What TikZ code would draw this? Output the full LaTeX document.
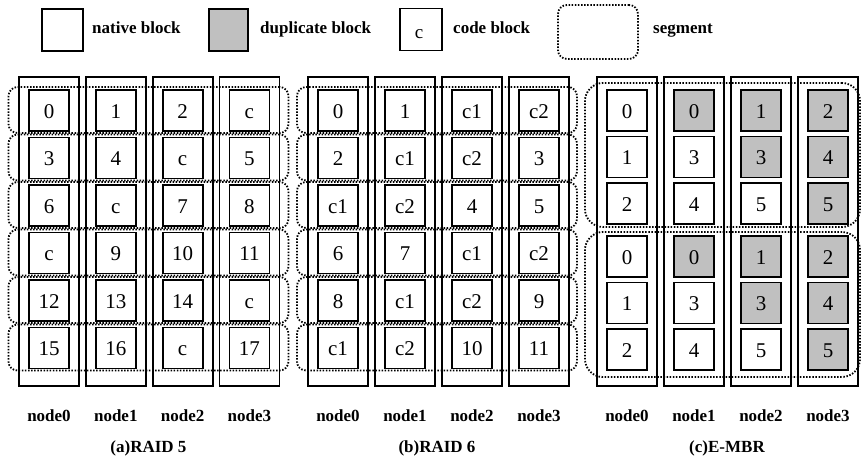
\documentclass[tikz,border=0pt]{standalone}
\usepackage{fontspec}
\setmainfont{Liberation Serif}
\definecolor{dupgray}{HTML}{C0C0C0}
\colorlet{nat}{white}
\colorlet{dup}{dupgray}
\begin{document}
\begin{tikzpicture}[x=1pt,y=-1pt,
  blk/.style={draw,line width=1.8pt,minimum width=40pt,minimum height=41pt,inner sep=0pt,fill=white,text height=15pt,text depth=0pt,font=\fontsize{21}{21}\selectfont},
  colbox/.style={draw,line width=1.8pt,minimum width=60pt,minimum height=309pt,inner sep=0pt},
  seg/.style={draw,line width=1.8pt,dash pattern=on 1.5pt off 1.6pt,rounded corners=9pt,inner sep=0pt},
  lbl/.style={font=\fontsize{17}{17}\selectfont\bfseries,inner sep=0pt}]
\useasboundingbox (0,0) rectangle (861,464);

% legend
\node[blk,minimum width=41pt,minimum height=42pt] (legnat) at (62.5,30) {};
\node[lbl,anchor=base west] (legnattxt) at (92,33) {native block};
\node[blk,fill=dupgray,minimum width=39pt,minimum height=42pt] (legdup) at (228.5,30) {};
\node[lbl,anchor=base west] (legduptxt) at (260,33) {duplicate block};
\node[blk,minimum width=42pt,minimum height=42pt] (legcode) at (421,29.5) {};
\node[font=\fontsize{19}{19}\selectfont,inner sep=0pt,anchor=base] (legc) at (419,38) {c};
\node[lbl,anchor=base west] (legcodetxt) at (453,33) {code block};
\node[seg,minimum width=80pt,minimum height=54pt] (legseg) at (598,32) {};
\node[lbl,anchor=base west] (legsegtxt) at (653,33) {segment};

% (a) RAID 5
\foreach \ci in {0,1,2,3} {
  \node[colbox] (a-col\ci) at (49+66.8*\ci,231.5) {};
}
\foreach \ri in {0,...,5} {
  \node[seg,minimum width=280pt,minimum height=46pt] (a-seg\ri) at (148.5,110+47.5*\ri) {};
}
\foreach \ri/\row in {0/{0,1,2,c},1/{3,4,c,5},2/{6,c,7,8},3/{c,9,10,11},4/{12,13,14,c},5/{15,16,c,17}} {
  \foreach \t [count=\ci from 0] in \row {
    \node[blk] (a-\ri-\ci) at (49+66.8*\ci,110.5+47.5*\ri) {\t};
  }
}
\foreach \ci in {0,1,2,3} {
  \node[lbl,anchor=base] (a-lab\ci) at (49+66.8*\ci,421) {node\ci};
}
\node[lbl,anchor=base] (a-title) at (148.5,452) {(a)RAID 5};

% (b) RAID 6
\foreach \ci in {0,1,2,3} {
  \node[colbox] (b-col\ci) at (338+67*\ci,231.5) {};
}
\foreach \ri in {0,...,5} {
  \node[seg,minimum width=280pt,minimum height=46pt] (b-seg\ri) at (437,110+47.5*\ri) {};
}
\foreach \ri/\row in {0/{0,1,c1,c2},1/{2,c1,c2,3},2/{c1,c2,4,5},3/{6,7,c1,c2},4/{8,c1,c2,9},5/{c1,c2,10,11}} {
  \foreach \t [count=\ci from 0] in \row {
    \node[blk] (b-\ri-\ci) at (338+67*\ci,110.5+47.5*\ri) {\t};
  }
}
\foreach \ci in {0,1,2,3} {
  \node[lbl,anchor=base] (b-lab\ci) at (338+67*\ci,421) {node\ci};
}
\node[lbl,anchor=base] (b-title) at (437,452) {(b)RAID 6};

% (c) E-MBR
\foreach \ci in {0,1,2,3} {
  \node[colbox] (c-col\ci) at (627+67*\ci,231.5) {};
}
\node[seg,rounded corners=18pt,minimum width=275pt,minimum height=144pt] (c-seg0) at (722.5,155) {};
\node[seg,rounded corners=18pt,minimum width=275pt,minimum height=145pt] (c-seg1) at (722.5,304.5) {};
\foreach \gi/\gy in {0/110.5,1/256.5} {
  \foreach \ri/\row in {0/{nat/0,dup/0,dup/1,dup/2},1/{nat/1,nat/3,dup/3,dup/4},2/{nat/2,nat/4,nat/5,dup/5}} {
    \foreach \f/\t [count=\ci from 0] in \row {
      \node[blk,fill=\f] (c-\gi-\ri-\ci) at (627+67*\ci,\gy+46.5*\ri) {\t};
    }
  }
}
\foreach \ci in {0,1,2,3} {
  \node[lbl,anchor=base] (c-lab\ci) at (627+67*\ci,421) {node\ci};
}
\node[lbl,anchor=base] (c-title) at (727,452) {(c)E-MBR};
\end{tikzpicture}
\end{document}
